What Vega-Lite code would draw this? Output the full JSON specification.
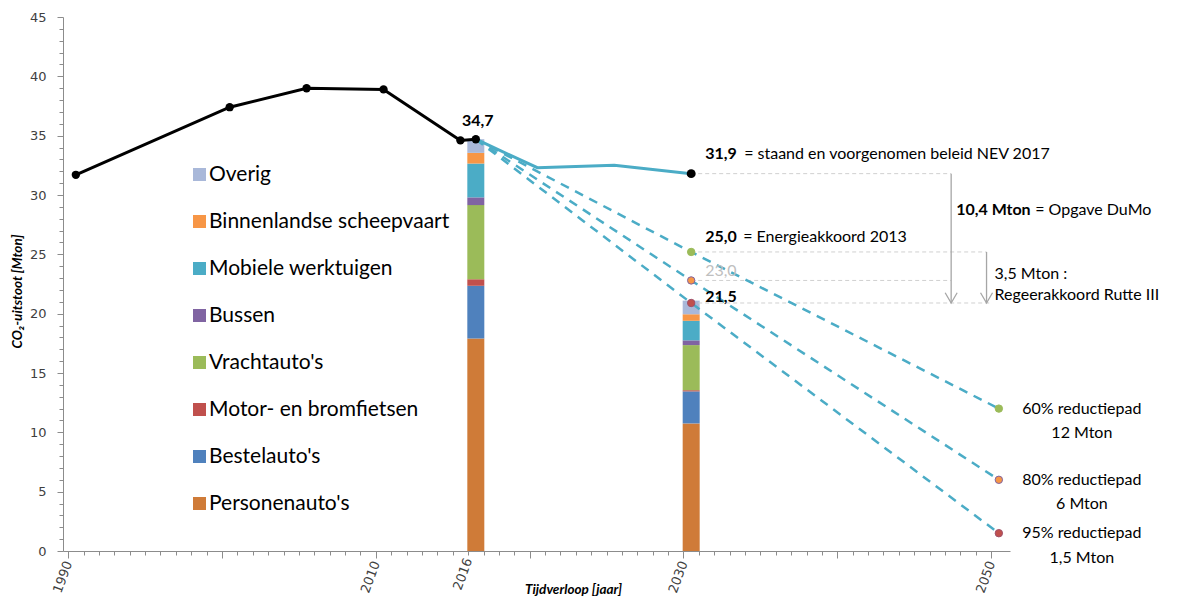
{
  "$schema": "https://vega.github.io/schema/vega-lite/v6.json",
  "width": 947,
  "height": 534,
  "autosize": {"type": "none"},
  "padding": {"left": 63, "top": 17, "right": 169, "bottom": 48},
  "background": "white",
  "config": {"view": {"stroke": null}, "font": "Lato"},
  "datasets": {
    "sectoren": [
      {"jaar": 2016, "categorie": "Personenauto's", "volgorde": 1, "waarde": 17.9},
      {"jaar": 2016, "categorie": "Bestelauto's", "volgorde": 2, "waarde": 4.45},
      {"jaar": 2016, "categorie": "Motor- en bromfietsen", "volgorde": 3, "waarde": 0.55},
      {"jaar": 2016, "categorie": "Vrachtauto's", "volgorde": 4, "waarde": 6.25},
      {"jaar": 2016, "categorie": "Bussen", "volgorde": 5, "waarde": 0.65},
      {"jaar": 2016, "categorie": "Mobiele werktuigen", "volgorde": 6, "waarde": 2.85},
      {"jaar": 2016, "categorie": "Binnenlandse scheepvaart", "volgorde": 7, "waarde": 0.9},
      {"jaar": 2016, "categorie": "Overig", "volgorde": 8, "waarde": 1.15},
      {"jaar": 2030, "categorie": "Personenauto's", "volgorde": 1, "waarde": 10.75},
      {"jaar": 2030, "categorie": "Bestelauto's", "volgorde": 2, "waarde": 2.7},
      {"jaar": 2030, "categorie": "Motor- en bromfietsen", "volgorde": 3, "waarde": 0.1},
      {"jaar": 2030, "categorie": "Vrachtauto's", "volgorde": 4, "waarde": 3.8},
      {"jaar": 2030, "categorie": "Bussen", "volgorde": 5, "waarde": 0.4},
      {"jaar": 2030, "categorie": "Mobiele werktuigen", "volgorde": 6, "waarde": 1.65},
      {"jaar": 2030, "categorie": "Binnenlandse scheepvaart", "volgorde": 7, "waarde": 0.55},
      {"jaar": 2030, "categorie": "Overig", "volgorde": 8, "waarde": 1.15}
    ],
    "historie": [
      {"jaar": 1990, "waarde": 31.7},
      {"jaar": 2000, "waarde": 37.4},
      {"jaar": 2005, "waarde": 39.0},
      {"jaar": 2010, "waarde": 38.9},
      {"jaar": 2015, "waarde": 34.6},
      {"jaar": 2016, "waarde": 34.7}
    ],
    "nev": [
      {"jaar": 2016, "waarde": 34.7},
      {"jaar": 2020, "waarde": 32.3},
      {"jaar": 2025, "waarde": 32.5},
      {"jaar": 2030, "waarde": 31.8}
    ],
    "paden": [
      {"pad": "60%", "jaar": 2016, "waarde": 34.7},
      {"pad": "60%", "jaar": 2030, "waarde": 25.2},
      {"pad": "60%", "jaar": 2050, "waarde": 12},
      {"pad": "80%", "jaar": 2016, "waarde": 34.7},
      {"pad": "80%", "jaar": 2030, "waarde": 22.8},
      {"pad": "80%", "jaar": 2050, "waarde": 6},
      {"pad": "95%", "jaar": 2016, "waarde": 34.7},
      {"pad": "95%", "jaar": 2030, "waarde": 20.9},
      {"pad": "95%", "jaar": 2050, "waarde": 1.5}
    ],
    "hulplijnen": [
      {"id": "a", "jaar": 2030, "waarde": 31.8},
      {"id": "a", "jaar": 2046.9, "waarde": 31.8},
      {"id": "b", "jaar": 2030, "waarde": 25.2},
      {"id": "b", "jaar": 2049.2, "waarde": 25.2},
      {"id": "c", "jaar": 2030, "waarde": 22.8},
      {"id": "c", "jaar": 2046.9, "waarde": 22.8},
      {"id": "d", "jaar": 2030, "waarde": 20.9},
      {"id": "d", "jaar": 2049.5, "waarde": 20.9}
    ],
    "pijlen": [
      {"jaar": 2046.9, "waarde": 31.8, "tot": 20.9},
      {"jaar": 2049.2, "waarde": 25.2, "tot": 20.9}
    ],
    "pijlpunten": [
      {"jaar": 2046.9, "waarde": 20.9},
      {"jaar": 2049.2, "waarde": 20.9}
    ]
  },
  "encoding": {
    "x": {
      "field": "jaar",
      "type": "quantitative",
      "scale": {"domain": [1989.49, 2050.4], "nice": false, "zero": false},
      "axis": {
        "title": "Tijdverloop [jaar]",
        "titleFont": "Lato",
        "titleFontSize": 13.5,
        "titleFontWeight": "bold",
        "titleFontStyle": "italic",
        "titleColor": "#000000",
        "titleX": 510,
        "titleY": 38,
        "titleAlign": "center",
        "titleBaseline": "middle",
        "values": [1989.5,1990.5,1991.5,1992.5,1993.5,1994.5,1995.5,1996.5,1997.5,1998.5,1999.5,2000.5,2001.5,2002.5,2003.5,2004.5,2005.5,2006.5,2007.5,2008.5,2009.5,2010.5,2011.5,2012.5,2013.5,2014.5,2015.5,2016.5,2017.5,2018.5,2019.5,2020.5,2021.5,2022.5,2023.5,2024.5,2025.5,2026.5,2027.5,2028.5,2029.5,2030.5,2031.5,2032.5,2033.5,2034.5,2035.5,2036.5,2037.5,2038.5,2039.5,2040.5,2041.5,2042.5,2043.5,2044.5,2045.5,2046.5,2047.5,2048.5,2049.5],
        "labelExpr": "indexof([1990,2010,2016,2030,2050], round(datum.value + 0.5)) >= 0 ? format(round(datum.value + 0.5), 'd') : ''",
        "labelAngle": -70,
        "labelAlign": "right",
        "labelBaseline": "middle",
        "labelOverlap": false,
        "labelBound": false,
        "labelFlush": false,
        "labelFont": "DejaVu Sans",
        "labelFontSize": 13,
        "labelColor": "#404040",
        "labelPadding": 3,
        "tickColor": "#8C8C8C",
        "domainColor": "#8C8C8C",
        "tickSize": {"condition": {"test": "round(datum.value + 0.5) % 10 === 0", "value": 7}, "value": 4},
        "grid": false
      }
    },
    "y": {
      "field": "waarde",
      "type": "quantitative",
      "scale": {"domain": [0, 45], "nice": false},
      "axis": {
        "title": "CO₂-uitstoot [Mton]",
        "titleFont": "Lato",
        "titleFontSize": 13.5,
        "titleFontWeight": "bold",
        "titleFontStyle": "italic",
        "titleColor": "#000000",
        "titleAngle": -90,
        "titleX": -46,
        "titleY": 274,
        "titleAlign": "center",
        "titleBaseline": "middle",
        "values": [0,1,2,3,4,5,6,7,8,9,10,11,12,13,14,15,16,17,18,19,20,21,22,23,24,25,26,27,28,29,30,31,32,33,34,35,36,37,38,39,40,41,42,43,44,45],
        "labelExpr": "datum.value % 5 === 0 ? datum.label : ''",
        "labelFont": "DejaVu Sans",
        "labelFontSize": 13,
        "labelColor": "#404040",
        "labelPadding": 11,
        "labelOverlap": false,
        "tickColor": "#8C8C8C",
        "domainColor": "#8C8C8C",
        "tickSize": {"condition": {"test": "datum.value % 5 === 0", "value": 6}, "value": 4},
        "grid": false
      }
    }
  },
  "layer": [
    {
      "data": {"name": "sectoren"},
      "mark": {"type": "bar", "size": 17},
      "encoding": {
        "order": {"field": "volgorde", "type": "quantitative", "sort": "ascending"},
        "color": {
          "field": "categorie",
          "type": "nominal",
          "sort": ["Overig", "Binnenlandse scheepvaart", "Mobiele werktuigen", "Bussen", "Vrachtauto's", "Motor- en bromfietsen", "Bestelauto's", "Personenauto's"],
          "scale": {
            "domain": ["Overig", "Binnenlandse scheepvaart", "Mobiele werktuigen", "Bussen", "Vrachtauto's", "Motor- en bromfietsen", "Bestelauto's", "Personenauto's"],
            "range": ["#A9B8D9", "#F79646", "#4BACC6", "#8064A2", "#9BBB59", "#C0504D", "#4F81BD", "#CF7B38"]
          },
          "legend": {
            "title": null,
            "orient": "none",
            "legendX": 126,
            "legendY": 147,
            "padding": 0,
            "symbolType": "square",
            "symbolSize": 169,
            "symbolStrokeWidth": 0,
            "labelFont": "Lato",
            "labelFontSize": 21,
            "labelColor": "#000000",
            "labelOffset": -1,
            "rowPadding": 25,
            "labelLimit": 400
          }
        }
      }
    },
    {
      "data": {"name": "hulplijnen"},
      "mark": {"type": "line", "color": "#D0D0D0", "strokeWidth": 1, "strokeDash": [4, 3]},
      "encoding": {"detail": {"field": "id", "type": "nominal"}}
    },
    {
      "data": {"name": "pijlen"},
      "mark": {"type": "rule", "color": "#A6A6A6", "strokeWidth": 1.3},
      "encoding": {"y2": {"field": "tot"}}
    },
    {
      "data": {"name": "pijlpunten"},
      "mark": {"type": "point", "shape": "M-1,-1.7L0,0L1,-1.7", "filled": false, "stroke": "#A6A6A6", "strokeWidth": 1.3, "size": 144, "opacity": 1},
      "encoding": {}
    },
    {
      "data": {"name": "paden"},
      "mark": {"type": "line", "color": "#4BACC6", "strokeWidth": 2.5, "strokeDash": [9, 7]},
      "encoding": {"detail": {"field": "pad", "type": "nominal"}}
    },
    {
      "data": {"name": "paden"},
      "transform": [{"filter": "datum.jaar > 2016"}],
      "mark": {"type": "circle", "size": 55, "opacity": 1, "strokeWidth": 1},
      "encoding": {
        "fill": {"field": "pad", "type": "nominal", "scale": {"domain": ["60%", "80%", "95%"], "range": ["#9BBB59", "#F79646", "#C0504D"]}, "legend": null},
        "stroke": {"field": "pad", "type": "nominal", "scale": {"domain": ["60%", "80%", "95%"], "range": ["#9BBB59", "#8064A2", "#A0506A"]}, "legend": null}
      }
    },
    {
      "data": {"name": "nev"},
      "mark": {"type": "line", "color": "#4BACC6", "strokeWidth": 3}
    },
    {
      "data": {"name": "historie"},
      "mark": {"type": "line", "color": "#000000", "strokeWidth": 3}
    },
    {
      "data": {"name": "historie"},
      "mark": {"type": "circle", "color": "#000000", "size": 70, "opacity": 1}
    },
    {
      "data": {"values": [{"jaar": 2030, "waarde": 31.8}]},
      "mark": {"type": "circle", "color": "#000000", "size": 80, "opacity": 1}
    },
    {
      "data": {"values": [{"jaar": 2016, "waarde": 34.7, "tekst": "34,7"}]},
      "mark": {"type": "text", "font": "Lato", "fontSize": 16, "fontWeight": "bold", "color": "#000000", "align": "center", "baseline": "middle", "dx": 2, "dy": -18},
      "encoding": {"text": {"field": "tekst"}}
    },
    {
      "data": {"values": [{"jaar": 2030, "waarde": 31.8, "tekst": "31,9"}]},
      "mark": {"type": "text", "font": "Lato", "fontSize": 16, "fontWeight": "bold", "color": "#000000", "align": "left", "baseline": "middle", "dx": 14, "dy": -20},
      "encoding": {"text": {"field": "tekst"}}
    },
    {
      "data": {"values": [{"jaar": 2030, "waarde": 20.9, "tekst": "21,5"}]},
      "mark": {"type": "text", "font": "Lato", "fontSize": 16, "fontWeight": "bold", "color": "#000000", "align": "left", "baseline": "middle", "dx": 14, "dy": -6},
      "encoding": {"text": {"field": "tekst"}}
    },
    {
      "data": {"values": [{"jaar": 2030, "waarde": 31.8, "tekst": "= staand en voorgenomen beleid NEV 2017"}]},
      "mark": {"type": "text", "font": "Lato", "fontSize": 16, "color": "#000000", "align": "left", "baseline": "middle", "dx": 53, "dy": -20},
      "encoding": {"text": {"field": "tekst"}}
    },
    {
      "data": {"values": [{"jaar": 2030, "waarde": 25.2, "tekst": "25,0"}]},
      "mark": {"type": "text", "font": "Lato", "fontSize": 16, "fontWeight": "bold", "color": "#000000", "align": "left", "baseline": "middle", "dx": 14, "dy": -15},
      "encoding": {"text": {"field": "tekst"}}
    },
    {
      "data": {"values": [{"jaar": 2030, "waarde": 25.2, "tekst": "= Energieakkoord 2013"}]},
      "mark": {"type": "text", "font": "Lato", "fontSize": 16, "color": "#000000", "align": "left", "baseline": "middle", "dx": 52, "dy": -15},
      "encoding": {"text": {"field": "tekst"}}
    },
    {
      "data": {"values": [{"jaar": 2030, "waarde": 22.8, "tekst": "23,0"}]},
      "mark": {"type": "text", "font": "Lato", "fontSize": 16, "color": "#BFBFBF", "align": "left", "baseline": "middle", "dx": 14, "dy": -9},
      "encoding": {"text": {"field": "tekst"}}
    },
    {
      "data": {"values": [{"jaar": 2046.9, "waarde": 31.8, "tekst": "10,4 Mton"}]},
      "mark": {"type": "text", "font": "Lato", "fontSize": 16, "fontWeight": "bold", "color": "#000000", "align": "left", "baseline": "middle", "dx": 5, "dy": 36},
      "encoding": {"text": {"field": "tekst"}}
    },
    {
      "data": {"values": [{"jaar": 2046.9, "waarde": 31.8, "tekst": "= Opgave DuMo"}]},
      "mark": {"type": "text", "font": "Lato", "fontSize": 16, "color": "#000000", "align": "left", "baseline": "middle", "dx": 84, "dy": 36},
      "encoding": {"text": {"field": "tekst"}}
    },
    {
      "data": {"values": [{"jaar": 2049.2, "waarde": 25.2, "tekst": ["3,5 Mton :", "Regeerakkoord Rutte III"]}]},
      "mark": {"type": "text", "font": "Lato", "fontSize": 16, "color": "#000000", "align": "left", "baseline": "middle", "dx": 8, "dy": 22, "lineHeight": 21},
      "encoding": {"text": {"field": "tekst"}}
    },
    {
      "data": {"values": [
        {"jaar": 2050, "waarde": 12, "tekst": ["60% reductiepad", "12 Mton"]},
        {"jaar": 2050, "waarde": 6, "tekst": ["80% reductiepad", "6 Mton"]},
        {"jaar": 2050, "waarde": 1.5, "tekst": ["95% reductiepad", "1,5 Mton"]}
      ]},
      "mark": {"type": "text", "font": "Lato", "fontSize": 16, "color": "#000000", "align": "center", "baseline": "middle", "dx": 83, "dy": 0, "lineHeight": 24.5},
      "encoding": {"text": {"field": "tekst"}}
    }
  ]
}
